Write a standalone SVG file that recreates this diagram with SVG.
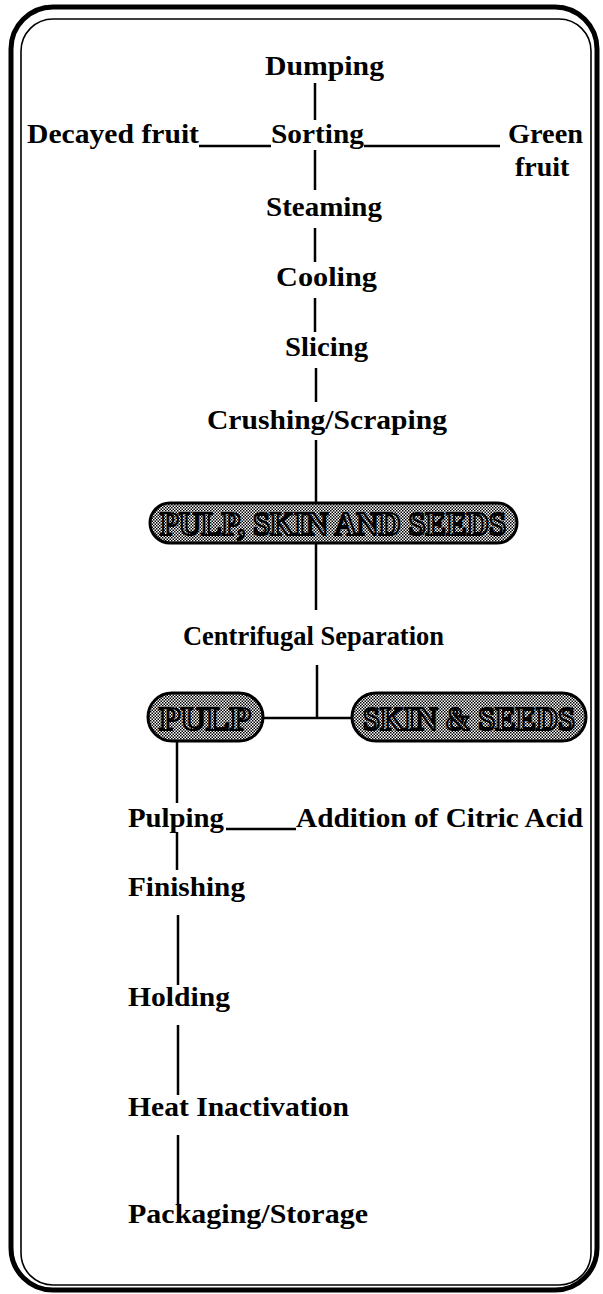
<svg xmlns="http://www.w3.org/2000/svg" width="603" height="1294" viewBox="0 0 603 1294">
<style>
.t{font-family:"Liberation Serif","Times New Roman",serif;font-weight:bold;font-size:28px;fill:#000}
.c{stroke:#000;stroke-width:2.5;fill:none}
.pt{font-family:"Liberation Serif","Times New Roman",serif;font-weight:bold;font-size:33px;fill:url(#dots);stroke:#000;stroke-width:2.2}
.pill{fill:url(#dots);stroke:#000;stroke-width:3}
</style>
<defs>
<pattern id="dots" width="3" height="3" patternUnits="userSpaceOnUse">
<rect width="3" height="3" fill="#fff"/>
<rect x="0" y="0" width="1.5" height="1.5" fill="#000"/>
<rect x="1.5" y="1.5" width="1.5" height="1.5" fill="#000"/>
</pattern>
</defs>
<g id="frame">
<rect x="11" y="7" width="586" height="1283" rx="42" fill="#fff" stroke="#000" stroke-width="5"/>
<rect x="21" y="19" width="570" height="1266" rx="32" fill="none" stroke="#000" stroke-width="1.6"/>
</g>
<g id="connectors">
<line class="c" x1="315" y1="83" x2="315" y2="120"/>
<line class="c" x1="199" y1="146" x2="271" y2="146"/>
<line class="c" x1="364" y1="146" x2="500" y2="146"/>
<line class="c" x1="315" y1="150" x2="315" y2="190"/>
<line class="c" x1="315" y1="228" x2="315" y2="262"/>
<line class="c" x1="315" y1="298" x2="315" y2="332"/>
<line class="c" x1="316" y1="368" x2="316" y2="402"/>
<line class="c" x1="316" y1="440" x2="316" y2="503"/>
<line class="c" x1="316" y1="543" x2="316" y2="610"/>
<line class="c" x1="317" y1="665" x2="317" y2="718"/>
<line class="c" x1="263" y1="718" x2="352" y2="718"/>
<line class="c" x1="177" y1="742" x2="177" y2="803"/>
<line class="c" x1="226" y1="829" x2="296" y2="829"/>
<line class="c" x1="177" y1="832" x2="177" y2="870"/>
<line class="c" x1="178" y1="915" x2="178" y2="985"/>
<line class="c" x1="178" y1="1025" x2="178" y2="1095"/>
<line class="c" x1="178" y1="1135" x2="178" y2="1205"/>
</g>
<g id="n-dumping"><text class="t" x="265" y="75" textLength="119" lengthAdjust="spacingAndGlyphs">Dumping</text></g>
<g id="n-decayed"><text class="t" x="27" y="143" textLength="172" lengthAdjust="spacingAndGlyphs">Decayed fruit</text></g>
<g id="n-sorting"><text class="t" x="271" y="143" textLength="93" lengthAdjust="spacingAndGlyphs">Sorting</text></g>
<g id="n-green"><text class="t" x="508" y="143" textLength="75" lengthAdjust="spacingAndGlyphs">Green</text><text class="t" x="515" y="176">fruit</text></g>
<g id="n-steaming"><text class="t" x="266" y="216" textLength="116" lengthAdjust="spacingAndGlyphs">Steaming</text></g>
<g id="n-cooling"><text class="t" x="276" y="286" textLength="101" lengthAdjust="spacingAndGlyphs">Cooling</text></g>
<g id="n-slicing"><text class="t" x="285" y="356" textLength="83" lengthAdjust="spacingAndGlyphs">Slicing</text></g>
<g id="n-crushing"><text class="t" x="207" y="429" textLength="240" lengthAdjust="spacingAndGlyphs">Crushing/Scraping</text></g>
<g id="n-pss">
<rect class="pill" x="150" y="503" width="367" height="40" rx="20"/>
<text class="pt" x="333" y="535" text-anchor="middle" textLength="346" lengthAdjust="spacingAndGlyphs">PULP, SKIN AND SEEDS</text>
</g>
<g id="n-centrifugal"><text class="t" x="183" y="645" textLength="261" lengthAdjust="spacingAndGlyphs">Centrifugal Separation</text></g>
<g id="n-pulp">
<rect class="pill" x="148" y="693" width="115" height="48" rx="24"/>
<text class="pt" x="205" y="730" text-anchor="middle" textLength="92" lengthAdjust="spacingAndGlyphs">PULP</text>
</g>
<g id="n-skin">
<rect class="pill" x="352" y="693" width="234" height="48" rx="24"/>
<text class="pt" x="469" y="730" text-anchor="middle" textLength="212" lengthAdjust="spacingAndGlyphs">SKIN &amp; SEEDS</text>
</g>
<g id="n-pulping"><text class="t" x="128" y="827" textLength="96" lengthAdjust="spacingAndGlyphs">Pulping</text></g>
<g id="n-citric"><text class="t" x="296" y="827" textLength="287" lengthAdjust="spacingAndGlyphs">Addition of Citric Acid</text></g>
<g id="n-finishing"><text class="t" x="128" y="896" textLength="117" lengthAdjust="spacingAndGlyphs">Finishing</text></g>
<g id="n-holding"><text class="t" x="128" y="1006" textLength="102" lengthAdjust="spacingAndGlyphs">Holding</text></g>
<g id="n-heat"><text class="t" x="128" y="1116" textLength="221" lengthAdjust="spacingAndGlyphs">Heat Inactivation</text></g>
<g id="n-packaging"><text class="t" x="128" y="1223" textLength="240" lengthAdjust="spacingAndGlyphs">Packaging/Storage</text></g>
</svg>
